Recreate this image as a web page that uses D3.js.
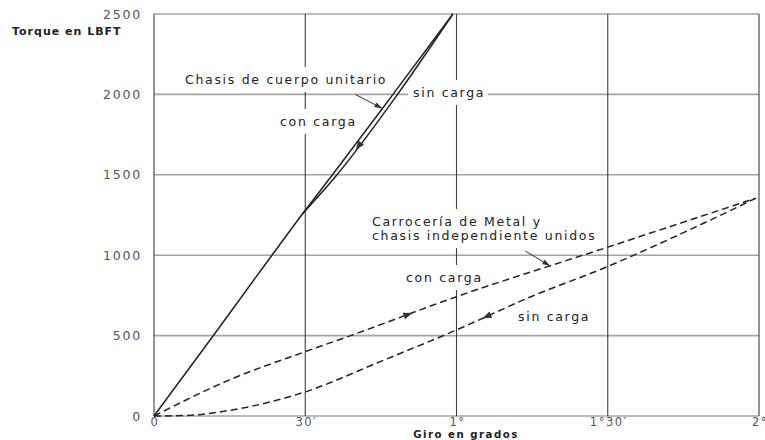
<!DOCTYPE html>
<html>
<head>
<meta charset="utf-8">
<script src="https://cdn.jsdelivr.net/npm/d3@7"></script>
<style>
body { margin: 0; background: #fff; }
text { font-family: "DejaVu Sans", sans-serif; }
</style>
</head>
<body>
<svg id="canvas" width="765" height="440"></svg>
<script>
var width = 765, height = 440
var margin = {left: 154, right: 6, top: 14, bottom: 24}

// giro en grados (x) / torque en lb-ft (y)
var xTicks = [0, 0.5, 1, 1.5, 2]
var xTickLabels = ['0', '30\u2032', '1\u00b0', '1\u00b030\u2032', '2\u00b0']
var yTicks = [0, 500, 1000, 1500, 2000, 2500]

var unitConCarga = [[0, 0], [0.2, 510], [0.39, 1000], [0.49, 1255], [0.59, 1500], [0.79, 2000], [0.988, 2500]]
var unitSinCarga = [[0.49, 1255], [0.605, 1500], [0.805, 2000], [0.988, 2500]]
var metalConCarga = [[0, 0], [0.25, 225], [0.5, 400], [0.65, 500], [1, 742], [1.5, 1050], [1.99, 1355]]
var metalSinCarga = [[0, 0], [0.1, 3], [0.25, 35], [0.5, 150], [0.75, 340], [1, 535], [1.25, 745], [1.5, 930], [1.75, 1140], [1.99, 1355]]

var x = d3.scaleLinear().domain([0, 2]).range([margin.left, width - margin.right])
var y = d3.scaleLinear().domain([0, 2500]).range([height - margin.bottom, margin.top])

var svg = d3.select('#canvas')

// grid
svg.append('g').selectAll('line')
  .data(yTicks)
  .enter().append('line')
  .attr('x1', x(0)).attr('x2', x(2))
  .attr('y1', d => y(d)).attr('y2', d => y(d))
  .attr('stroke', '#a4a4a4')
  .attr('stroke-width', 1.6)

svg.append('g').selectAll('line')
  .data(xTicks)
  .enter().append('line')
  .attr('x1', d => x(d)).attr('x2', d => x(d))
  .attr('y1', y(0)).attr('y2', y(2500))
  .attr('stroke', '#3c3c3c')
  .attr('stroke-width', 1.1)

// tick labels
svg.append('g').selectAll('text')
  .data(yTicks)
  .enter().append('text')
  .attr('x', 142)
  .attr('y', d => y(d) + 4.5)
  .attr('text-anchor', 'end')
  .attr('font-size', 12.5)
  .attr('letter-spacing', 1.8)
  .attr('fill', '#555')
  .text(d => d)

svg.append('g').selectAll('text')
  .data(xTicks)
  .enter().append('text')
  .attr('x', d => x(d) + 1)
  .attr('y', 426)
  .attr('text-anchor', 'middle')
  .attr('font-size', 11.5)
  .attr('letter-spacing', 1.5)
  .attr('fill', '#555')
  .text((d, i) => xTickLabels[i])

svg.append('text')
  .attr('x', 12).attr('y', 35)
  .attr('font-size', 11).attr('font-weight', 'bold')
  .attr('letter-spacing', 1)
  .attr('fill', '#222')
  .text('Torque en LBFT')

svg.append('text')
  .attr('x', 466).attr('y', 438)
  .attr('text-anchor', 'middle')
  .attr('font-size', 10.2).attr('font-weight', 'bold')
  .attr('letter-spacing', 1.5)
  .attr('fill', '#222')
  .text('Giro en grados')

// labels inside the chart, with a white box that hides the grid behind
var labels = [
  {text: 'Chasis de cuerpo unitario', px: 185, py: 84},
  {text: 'sin carga', px: 413, py: 97},
  {text: 'con carga', px: 280, py: 126},
  {text: 'Carrocer\u00eda de Metal y', px: 372, py: 226},
  {text: 'chasis independiente unidos', px: 372, py: 240},
  {text: 'con carga', px: 406, py: 282},
  {text: 'sin carga', px: 518, py: 321}
]

var boxes = svg.append('g')
var lg = svg.append('g')
labels.forEach(function(l) {
  var t = lg.append('text')
    .attr('x', l.px).attr('y', l.py)
    .attr('font-size', 12.5)
    .attr('letter-spacing', 1.7)
    .attr('fill', '#222')
    .text(l.text)
  var b = t.node().getBBox()
  boxes.append('rect').attr('fill', '#fff')
    .attr('x', b.x - 5).attr('y', b.y - 5)
    .attr('width', b.width + 8).attr('height', b.height + 10)
})

// curves
var line = d3.line()
  .x(d => x(d[0]))
  .y(d => y(d[1]))
  .curve(d3.curveMonotoneX)

var series = [
  {data: unitConCarga, dash: null},
  {data: unitSinCarga, dash: null},
  {data: metalConCarga, dash: '7,4'},
  {data: metalSinCarga, dash: '7,4'}
]

svg.append('g').selectAll('path')
  .data(series)
  .enter().append('path')
  .attr('d', d => line(d.data))
  .attr('fill', 'none')
  .attr('stroke', '#222')
  .attr('stroke-width', 1.5)
  .attr('stroke-dasharray', d => d.dash)

function at(data, g) {
  for (var i = 1; i < data.length; i++) {
    if (g <= data[i][0]) {
      var a = data[i - 1], b = data[i]
      var t = (g - a[0]) / (b[0] - a[0])
      return [x(g), y(a[1] + t * (b[1] - a[1]))]
    }
  }
  var last = data[data.length - 1]
  return [x(last[0]), y(last[1])]
}

function head(g, p, ang, len, w) {
  g.append('path')
    .attr('d', 'M0,0 L' + (-len) + ',' + (-w / 2) + ' L' + (-len) + ',' + (w / 2) + ' Z')
    .attr('transform', 'translate(' + p[0] + ',' + p[1] + ') rotate(' + (ang * 180 / Math.PI) + ')')
    .attr('fill', '#333')
}

// direction arrows on the curves (dir -1 = pointing back to origin)
var dirArrows = [
  {data: unitSinCarga, g: 0.676, dir: -1},
  {data: metalConCarga, g: 0.84, dir: 1},
  {data: metalSinCarga, g: 1.1, dir: -1}
]

var ag = svg.append('g')
dirArrows.forEach(function(a) {
  var p0 = at(a.data, a.g - 0.01), p1 = at(a.data, a.g + 0.01)
  var ang = Math.atan2(p1[1] - p0[1], p1[0] - p0[0])
  if (a.dir < 0) ang += Math.PI
  var p = at(a.data, a.g)
  // shift so the head is centred on the point
  p = [p[0] + Math.cos(ang) * 4.5, p[1] + Math.sin(ang) * 4.5]
  head(ag, p, ang, 9, 7)
})

// pointers from the titles to the curves
var pointers = [
  {data: unitConCarga, g: 0.755, dx: -27, dy: -14},
  {data: metalConCarga, g: 1.31, dx: -25, dy: -15}
]

pointers.forEach(function(a) {
  var tip = at(a.data, a.g)
  var s = [tip[0] + a.dx, tip[1] + a.dy]
  ag.append('line')
    .attr('x1', s[0]).attr('y1', s[1])
    .attr('x2', tip[0]).attr('y2', tip[1])
    .attr('stroke', '#333').attr('stroke-width', 1)
  head(ag, tip, Math.atan2(-a.dy, -a.dx), 8, 5)
})
</script>
</body>
</html>
